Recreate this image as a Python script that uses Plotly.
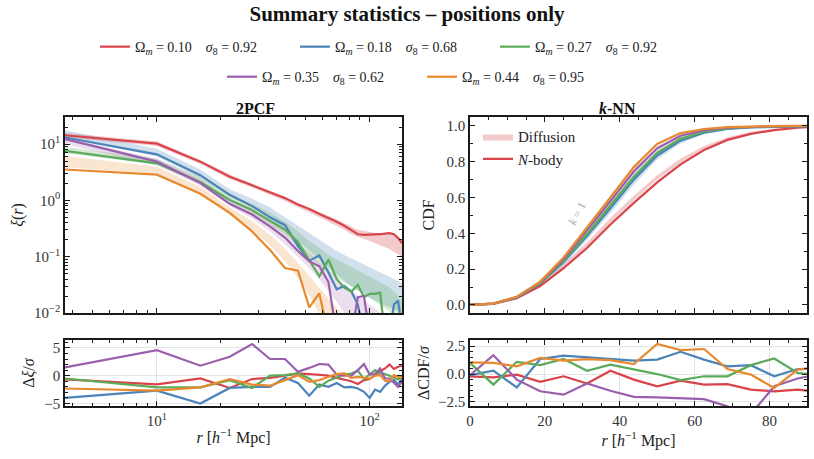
import plotly.graph_objects as go

# radial bins
r_2pcf = [3.7, 10, 16, 22, 28, 34, 40, 46, 52, 58, 64, 70, 76, 82, 88, 94, 100, 106, 112, 118, 124, 130, 136, 142]
r_knn = [0, 6.25, 12.5, 18.75, 25, 31.25, 37.5, 43.75, 50, 56.25, 62.5, 68.75, 75, 81.25, 87.5, 93.75]

labels = [
    "Ω<sub><i>m</i></sub> = 0.10\u2003<i>σ</i><sub>8</sub> = 0.92",
    "Ω<sub><i>m</i></sub> = 0.18\u2003<i>σ</i><sub>8</sub> = 0.68",
    "Ω<sub><i>m</i></sub> = 0.27\u2003<i>σ</i><sub>8</sub> = 0.92",
    "Ω<sub><i>m</i></sub> = 0.35\u2003<i>σ</i><sub>8</sub> = 0.62",
    "Ω<sub><i>m</i></sub> = 0.44\u2003<i>σ</i><sub>8</sub> = 0.95",
]
colors = ["#d8444a", "#4a84b8", "#5aab5a", "#9a5fac", "#e8892f"]
fills = ["rgba(216,68,74,0.28)", "rgba(74,132,184,0.25)", "rgba(90,171,90,0.25)",
         "rgba(154,95,172,0.2)", "rgba(232,137,47,0.22)"]

# 2PCF, N-body
xi_red = [14.45, 10.23, 4.90, 2.63, 1.86, 1.38, 1.10, 0.851, 0.708, 0.575, 0.490, 0.417, 0.355, 0.302, 0.251, 0.245, 0.245, 0.245, 0.251, 0.257, 0.263, 0.251, 0.214, 0.174]
xi_blue = [13.18, 6.61, 2.82, 1.26, 0.794, 0.501, 0.363, 0.155, 0.0851, 0.105, 0.0525, 0.0263, 0.0302, 0.0240, 0.0141, 0.004, 0.004, 0.004, 0.004, 0.004, 0.004, 0.0141, 0.0166, 0.005]
xi_green = [7.59, 4.57, 2.14, 1.023, 0.676, 0.437, 0.302, 0.182, 0.0891, 0.0447, 0.0891, 0.0398, 0.0282, 0.0240, 0.0316, 0.0191, 0.0219, 0.0219, 0.0229, 0.004, 0.004, 0.004, 0.004, 0.004]
xi_purple = [12.30, 4.90, 2.04, 0.871, 0.562, 0.347, 0.219, 0.126, 0.0832, 0.0676, 0.0355, 0.004, 0.004, 0.004, 0.0191, 0.0200, 0.004, 0.004, 0.004, 0.004, 0.004, 0.004, 0.004, 0.004]
xi_orange = [3.55, 2.88, 1.318, 0.603, 0.282, 0.132, 0.063, 0.0562, 0.0126, 0.0224, 0.004, 0.004, 0.004, 0.004, 0.004, 0.004, 0.004, 0.004, 0.004, 0.004, 0.004, 0.004, 0.004, 0.004]

# 2PCF, diffusion band (lower / upper)
xi_red_lo = [13.2, 9.33, 4.47, 2.40, 1.70, 1.26, 0.977, 0.759, 0.617, 0.501, 0.417, 0.355, 0.302, 0.251, 0.224, 0.209, 0.191, 0.178, 0.162, 0.148, 0.135, 0.123, 0.110, 0.100]
xi_red_hi = [15.85, 11.22, 5.25, 2.88, 2.00, 1.48, 1.15, 0.912, 0.759, 0.631, 0.537, 0.457, 0.389, 0.339, 0.302, 0.288, 0.275, 0.263, 0.263, 0.263, 0.251, 0.240, 0.224, 0.200]
xi_blue_lo = [13.18, 6.03, 2.51, 1.148, 0.759, 0.479, 0.302, 0.1905, 0.1259, 0.0871, 0.0631, 0.0479, 0.0372, 0.0302, 0.0251, 0.0214, 0.0186, 0.0166, 0.0148, 0.0135, 0.0126, 0.0117, 0.0110, 0.0100]
xi_blue_hi = [17.78, 8.32, 3.55, 1.585, 1.072, 0.759, 0.501, 0.355, 0.263, 0.1995, 0.1585, 0.1259, 0.1072, 0.0933, 0.0813, 0.0708, 0.0646, 0.0575, 0.0525, 0.0468, 0.0427, 0.0389, 0.0363, 0.0339]
xi_green_lo = [6.92, 4.37, 2.00, 0.955, 0.603, 0.380, 0.251, 0.1585, 0.100, 0.0708, 0.0525, 0.0417, 0.0347, 0.0295, 0.0251, 0.0214, 0.0186, 0.0158, 0.0138, 0.0120, 0.0107, 0.0089, 0.0071, 0.0050]
xi_green_hi = [8.91, 5.50, 2.63, 1.259, 0.871, 0.603, 0.417, 0.282, 0.1905, 0.1413, 0.1096, 0.0891, 0.0759, 0.0661, 0.0562, 0.0501, 0.0447, 0.0398, 0.0355, 0.0316, 0.0282, 0.0240, 0.0200, 0.0158]
xi_purple_lo = [10.0, 4.17, 1.82, 0.794, 0.479, 0.282, 0.166, 0.100, 0.0631, 0.0398, 0.0251, 0.0158, 0.0100, 0.0063, 0.0040, 0.0025, 0.0016, 0.001, 0.001, 0.001, 0.001, 0.001, 0.001, 0.001]
xi_purple_hi = [13.18, 5.50, 2.40, 1.047, 0.692, 0.447, 0.282, 0.178, 0.1175, 0.0794, 0.0562, 0.0417, 0.0316, 0.0251, 0.0200, 0.0166, 0.0141, 0.0120, 0.0105, 0.0091, 0.0079, 0.0069, 0.0060, 0.0052]
xi_orange_lo = [3.89, 3.02, 1.318, 0.550, 0.302, 0.1585, 0.0832, 0.0417, 0.0209, 0.010, 0.005, 0.0025, 0.0013, 0.001, 0.001, 0.001, 0.001, 0.001, 0.001, 0.001, 0.001, 0.001, 0.001, 0.001]
xi_orange_hi = [6.17, 3.98, 1.74, 0.76, 0.43, 0.245, 0.138, 0.078, 0.045, 0.0275, 0.0178, 0.0120, 0.0085, 0.0060, 0.0045, 0.0035, 0.0028, 0.0022, 0.002, 0.002, 0.002, 0.002, 0.002, 0.002]

# 2PCF residuals
dxi_red = [-0.65, -1.55, -0.5, -2.2, -0.6, -0.4, 0.0, 0.4, 0.3, 0.2, 0.0, -0.4, -0.7, -1.0, -1.5, -0.8, -0.6, 0.2, 0.8, 1.3, 2.0, 1.2, 1.6, 1.8]
dxi_blue = [-4.0, -2.7, -5.0, -2.2, -2.0, -2.0, -0.35, -1.3, -3.6, -1.6, -2.0, -1.3, -2.1, -2.0, -2.3, -2.9, -4.0, -2.5, -2.9, -1.8, -1.1, -0.8, -1.6, -0.5]
dxi_green = [-0.5, -2.1, -2.1, -0.8, -2.2, 0.0, 0.1, 0.4, -0.5, -2.0, -0.9, -0.3, 0.2, 0.4, 0.9, -0.6, 0.2, 1.0, 0.4, 0.3, 0.0, -0.3, -0.7, -0.2]
dxi_purple = [1.5, 4.6, 1.8, 3.4, 5.7, 3.0, 3.0, 0.7, 1.4, 2.1, 2.0, 0.2, 0.0, 0.0, 1.0, 2.1, 0.2, 0.3, 1.3, -0.5, -0.5, -1.2, -2.0, -1.0]
dxi_orange = [-2.3, -2.7, -2.1, -0.6, -1.6, -1.8, -0.8, 0.1, -1.1, -0.8, -0.2, 0.3, 0.4, -0.4, -0.2, -0.3, -0.5, 0.0, 0.1, -0.9, -1.0, 0.1, -0.2, -0.3]

# k-NN CDF, N-body
cdf_red = [0, 0.006, 0.037, 0.105, 0.205, 0.318, 0.449, 0.57, 0.685, 0.785, 0.865, 0.922, 0.956, 0.977, 0.99, 0.997]
cdf_blue = [0, 0.007, 0.042, 0.12, 0.24, 0.385, 0.54, 0.70, 0.835, 0.918, 0.962, 0.983, 0.992, 0.996, 0.998, 0.999]
cdf_green = [0, 0.007, 0.043, 0.122, 0.245, 0.395, 0.555, 0.715, 0.85, 0.928, 0.968, 0.986, 0.994, 0.997, 0.999, 1.0]
cdf_purple = [0, 0.007, 0.044, 0.127, 0.255, 0.415, 0.58, 0.745, 0.875, 0.945, 0.976, 0.99, 0.996, 0.998, 0.999, 1.0]
cdf_orange = [0, 0.007, 0.045, 0.13, 0.265, 0.43, 0.6, 0.77, 0.9, 0.96, 0.983, 0.993, 0.997, 0.999, 1.0, 1.0]

# k-NN CDF, diffusion band
cdf_red_lo = [0, 0.005, 0.035, 0.105, 0.21, 0.325, 0.46, 0.585, 0.70, 0.795, 0.872, 0.925, 0.958, 0.978, 0.99, 0.997]
cdf_red_hi = [0, 0.008, 0.043, 0.118, 0.228, 0.35, 0.485, 0.61, 0.725, 0.818, 0.888, 0.937, 0.967, 0.984, 0.993, 0.998]
cdf_blue_lo = [0, 0.006, 0.039, 0.111, 0.222, 0.362, 0.512, 0.672, 0.812, 0.902, 0.953, 0.978, 0.99, 0.995, 0.998, 0.999]
cdf_blue_hi = [0, 0.008, 0.046, 0.13, 0.258, 0.41, 0.57, 0.73, 0.858, 0.934, 0.97, 0.987, 0.995, 0.998, 0.999, 1.0]
cdf_green_lo = [0, 0.006, 0.041, 0.117, 0.236, 0.382, 0.54, 0.70, 0.835, 0.918, 0.962, 0.983, 0.993, 0.997, 0.999, 1.0]
cdf_green_hi = [0, 0.008, 0.045, 0.127, 0.254, 0.408, 0.57, 0.73, 0.862, 0.937, 0.973, 0.989, 0.996, 0.998, 0.999, 1.0]
cdf_purple_lo = [0, 0.006, 0.042, 0.122, 0.246, 0.402, 0.565, 0.73, 0.862, 0.937, 0.972, 0.988, 0.995, 0.998, 0.999, 1.0]
cdf_purple_hi = [0, 0.008, 0.046, 0.132, 0.264, 0.428, 0.595, 0.76, 0.888, 0.953, 0.98, 0.992, 0.997, 0.999, 1.0, 1.0]
cdf_orange_lo = [0, 0.006, 0.043, 0.126, 0.258, 0.42, 0.59, 0.76, 0.89, 0.955, 0.981, 0.992, 0.997, 0.999, 1.0, 1.0]
cdf_orange_hi = [0, 0.008, 0.047, 0.134, 0.272, 0.44, 0.61, 0.78, 0.905, 0.965, 0.986, 0.995, 0.998, 0.999, 1.0, 1.0]

# k-NN residuals
dcdf_red = [-0.2, -0.3, -0.05, -0.7, -0.2, -0.85, 0.3, -0.5, -1.1, -0.6, -0.95, -0.9, -1.4, -1.55, -1.4, -1.6]
dcdf_blue = [-0.1, 0.3, -1.2, 1.35, 1.65, 1.5, 1.35, 1.2, 1.3, 2.0, 1.3, 0.7, 0.8, -0.2, 0.45, 0.5]
dcdf_green = [1.0, -0.95, 1.1, 0.8, 1.35, 0.3, 0.85, 0.4, 0.0, -0.55, -0.2, -0.2, 0.8, 1.4, 0.1, -0.1]
dcdf_purple = [-0.1, 1.7, -0.5, -1.55, -1.85, -0.85, -1.5, -2.05, -2.1, -2.15, -2.25, -2.9, -3.6, -1.1, -0.4, 0.0]
dcdf_orange = [1.05, 1.0, 0.7, 1.45, 1.2, 1.35, 1.25, 0.9, 2.7, 2.15, 2.25, 0.45, -0.05, -1.25, 0.4, 0.6]

xi_nb = [xi_red, xi_blue, xi_green, xi_purple, xi_orange]
xi_lo = [xi_red_lo, xi_blue_lo, xi_green_lo, xi_purple_lo, xi_orange_lo]
xi_hi = [xi_red_hi, xi_blue_hi, xi_green_hi, xi_purple_hi, xi_orange_hi]
dxi = [dxi_red, dxi_blue, dxi_green, dxi_purple, dxi_orange]
cdf_nb = [cdf_red, cdf_blue, cdf_green, cdf_purple, cdf_orange]
cdf_lo = [cdf_red_lo, cdf_blue_lo, cdf_green_lo, cdf_purple_lo, cdf_orange_lo]
cdf_hi = [cdf_red_hi, cdf_blue_hi, cdf_green_hi, cdf_purple_hi, cdf_orange_hi]
dcdf = [dcdf_red, dcdf_blue, dcdf_green, dcdf_purple, dcdf_orange]

FONT = "Liberation Serif, Times New Roman, serif"
fig = go.Figure()

# diffusion bands
for i in range(5):
    fig.add_trace(go.Scatter(x=r_2pcf, y=xi_lo[i], mode="lines", line=dict(width=0),
                             showlegend=False, hoverinfo="skip", xaxis="x", yaxis="y"))
    fig.add_trace(go.Scatter(x=r_2pcf, y=xi_hi[i], mode="lines", line=dict(width=0),
                             fill="tonexty", fillcolor=fills[i], showlegend=False,
                             hoverinfo="skip", xaxis="x", yaxis="y"))
for i in range(5):
    fig.add_trace(go.Scatter(x=r_knn, y=cdf_lo[i], mode="lines", line=dict(width=0),
                             showlegend=False, hoverinfo="skip", xaxis="x2", yaxis="y2"))
    fig.add_trace(go.Scatter(x=r_knn, y=cdf_hi[i], mode="lines", line=dict(width=0),
                             fill="tonexty", fillcolor=fills[i],
                             name="Diffusion", showlegend=(i == 0), legend="legend3",
                             hoverinfo="skip", xaxis="x2", yaxis="y2"))

# N-body lines
for i in range(5):
    fig.add_trace(go.Scatter(x=r_2pcf, y=xi_nb[i], mode="lines", name=labels[i],
                             line=dict(color=colors[i], width=2.2),
                             legend="legend" if i < 3 else "legend2",
                             xaxis="x", yaxis="y"))
for i in range(5):
    fig.add_trace(go.Scatter(x=r_knn, y=cdf_nb[i], mode="lines", name="<i>N</i>-body",
                             line=dict(color=colors[i], width=2.2),
                             showlegend=(i == 0), legend="legend3",
                             xaxis="x2", yaxis="y2"))
for i in range(5):
    fig.add_trace(go.Scatter(x=r_2pcf, y=dxi[i], mode="lines", showlegend=False,
                             line=dict(color=colors[i], width=2.2), xaxis="x3", yaxis="y3"))
    fig.add_trace(go.Scatter(x=r_knn, y=dcdf[i], mode="lines", showlegend=False,
                             line=dict(color=colors[i], width=2.2), xaxis="x4", yaxis="y4"))

ax = dict(showline=True, linecolor="#1a1a1a", linewidth=1.6, mirror="ticks", automargin=False,
          ticks="inside", ticklen=5, tickwidth=1, tickcolor="#1a1a1a",
          tickfont=dict(family=FONT, size=15, color="#333"), showgrid=False, zeroline=False)
minor = dict(ticks="inside", ticklen=3, tickwidth=0.8, tickcolor="#1a1a1a", showgrid=False)
grid = dict(showgrid=True, gridcolor="#e3e3e3", gridwidth=1)

log_minor_x = [m * 10 ** e for e in (0, 1, 2) for m in range(2, 10)]
log_minor_y = [m * 10.0 ** e for e in (-2, -1, 0, 1) for m in range(2, 10)]
xtitle = "<i>r</i> [<i>h</i><sup>−1</sup> Mpc]"

fig.update_layout(
    width=814, height=459,
    margin=dict(l=65, r=7, t=117, b=53),
    paper_bgcolor="white", plot_bgcolor="white",
    font=dict(family=FONT, color="#222"),
    title=dict(text="<b>Summary statistics – positions only</b>", x=0.5, xanchor="center",
               y=1 - 14 / 459, yanchor="middle", font=dict(size=21, color="#111")),
    xaxis=dict(ax, type="log", domain=[0, 0.4542], range=[0.568, 2.152], anchor="y",
               showticklabels=False, tickvals=[10, 100],
               minor=dict(minor, tickmode="array", tickvals=log_minor_x)),
    yaxis=dict(ax, type="log", domain=[0.322, 1], range=[-2, 1.484], anchor="x",
               tickvals=[0.01, 0.1, 1, 10],
               ticktext=["10<sup>−2</sup>", "10<sup>−1</sup>", "10<sup>0</sup>", "10<sup>1</sup>"],
               minor=dict(minor, tickmode="array", tickvals=log_minor_y),
               title=dict(text="<i>ξ</i>(<i>r</i>)", font=dict(size=16), standoff=6)),
    xaxis2=dict(ax, domain=[0.5458, 1], range=[0, 90], anchor="y2", showticklabels=False,
                dtick=20, minor=dict(minor, dtick=5)),
    yaxis2=dict(ax, domain=[0.322, 1], range=[-0.045, 1.05], anchor="x2", dtick=0.2,
                tickformat=".1f", minor=dict(minor, dtick=0.1),
                title=dict(text="CDF", font=dict(size=16), standoff=8)),
    xaxis3=dict(ax, **grid, type="log", domain=[0, 0.4542], range=[0.568, 2.152], anchor="y3",
                tickvals=[10, 100], ticktext=["10<sup>1</sup>", "10<sup>2</sup>"],
                minor=dict(minor, tickmode="array", tickvals=log_minor_x),
                title=dict(text=xtitle, font=dict(size=16), standoff=4)),
    yaxis3=dict(ax, **grid, domain=[0, 0.228], range=[-5.45, 6.4], anchor="x3",
                tickvals=[-5, 0, 5], ticktext=["−5", "0", "5"], minor=dict(minor, dtick=1),
                title=dict(text="Δ<i>ξ</i>/<i>σ</i>", font=dict(size=16), standoff=6)),
    xaxis4=dict(ax, **grid, domain=[0.5458, 1], range=[0, 90], anchor="y4", dtick=20,
                minor=dict(minor, dtick=5),
                title=dict(text=xtitle, font=dict(size=16), standoff=4)),
    yaxis4=dict(ax, **grid, domain=[0, 0.228], range=[-2.87, 3.05], anchor="x4",
                tickvals=[-2.5, 0, 2.5], ticktext=["−2.5", "0.0", "2.5"], minor=dict(minor, dtick=0.5),
                title=dict(text="ΔCDF/<i>σ</i>", font=dict(size=16), standoff=4)),
    legend=dict(orientation="h", x=0.0404, xanchor="left", y=1.242, yanchor="middle",
                traceorder="normal", entrywidth=155, font=dict(size=14),
                bgcolor="rgba(0,0,0,0)"),
    legend2=dict(orientation="h", x=0.2116, xanchor="left", y=1.138, yanchor="middle",
                 traceorder="normal", entrywidth=155, font=dict(size=14),
                 bgcolor="rgba(0,0,0,0)"),
    legend3=dict(x=0.5566, xanchor="left", y=0.989, yanchor="top", traceorder="normal",
                 font=dict(size=15), bgcolor="rgba(0,0,0,0)"),
    annotations=[
        dict(text="<b>2PCF</b>", x=0.2271, y=1.031, xref="paper", yref="paper",
             showarrow=False, yanchor="middle", font=dict(size=16, color="#111")),
        dict(text="<b><i>k</i>-NN</b>", x=0.7729, y=1.031, xref="paper", yref="paper",
             showarrow=False, yanchor="middle", font=dict(size=16, color="#111")),
        dict(text="<i>k</i> = 1", x=28.5, y=0.51, xref="x2", yref="y2", showarrow=False,
             textangle=-62, font=dict(size=12, color="#aaaaaa")),
    ],
)

# drop the page's default body margin so the figure sits at the window origin
fig.write_html("out.html", config={"displayModeBar": False},
               post_script="document.body.style.margin = '0';")
